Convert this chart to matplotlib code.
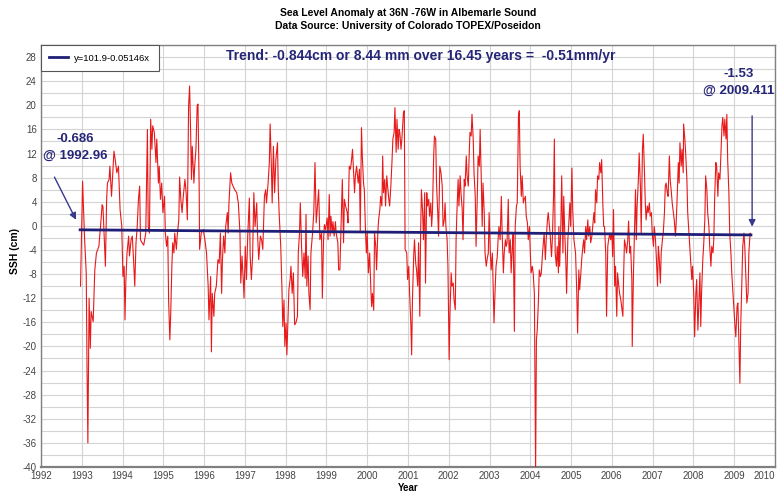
import matplotlib
matplotlib.use("Agg")
import matplotlib.pyplot as plt
from matplotlib.ticker import MultipleLocator

plt.rcParams['font.family'] = ['Liberation Sans Narrow', 'Liberation Sans', 'DejaVu Sans']
plt.rcParams['axes.unicode_minus'] = False

# sea surface height anomaly (cm)
years = [
    1992.97, 1993.02, 1993.07, 1993.11, 1993.13, 1993.15, 1993.18, 1993.21, 1993.23, 1993.28,
    1993.32, 1993.36, 1993.42, 1993.46, 1993.50, 1993.52, 1993.55, 1993.58, 1993.61, 1993.63,
    1993.67, 1993.69, 1993.73, 1993.76, 1993.79, 1993.82, 1993.86, 1993.90, 1993.94, 1993.98,
    1994.01, 1994.04, 1994.06, 1994.08, 1994.11, 1994.15, 1994.17, 1994.21, 1994.24, 1994.27,
    1994.30, 1994.33, 1994.36, 1994.39, 1994.42, 1994.44, 1994.48, 1994.52, 1994.57, 1994.61,
    1994.63, 1994.66, 1994.69, 1994.72, 1994.74, 1994.78, 1994.82, 1994.84, 1994.88, 1994.90,
    1994.93, 1994.96, 1994.99, 1995.03, 1995.05, 1995.08, 1995.11, 1995.13, 1995.16, 1995.18,
    1995.21, 1995.23, 1995.26, 1995.28, 1995.32, 1995.34, 1995.38, 1995.40, 1995.43, 1995.46,
    1995.49, 1995.53, 1995.56, 1995.59, 1995.62, 1995.645, 1995.67,
    1995.69, 1995.71, 1995.75, 1995.77, 1995.80, 1995.83, 1995.85, 1995.88, 1995.89, 1995.93,
    1995.98, 1996.02, 1996.06, 1996.10, 1996.12, 1996.16, 1996.18, 1996.20, 1996.24, 1996.26,
    1996.30, 1996.34, 1996.37, 1996.40, 1996.43, 1996.45, 1996.48, 1996.51, 1996.53, 1996.57,
    1996.59, 1996.61, 1996.65, 1996.68, 1996.71, 1996.75, 1996.80, 1996.84, 1996.88, 1996.90,
    1996.93, 1996.96, 1996.98, 1997.01, 1997.04, 1997.07, 1997.11, 1997.13, 1997.16, 1997.19,
    1997.22, 1997.25, 1997.29, 1997.31, 1997.34, 1997.38, 1997.41, 1997.44, 1997.48, 1997.51,
    1997.53, 1997.57, 1997.60, 1997.62, 1997.65, 1997.67, 1997.70, 1997.73, 1997.76, 1997.80,
    1997.82, 1997.84, 1997.88, 1997.91, 1997.93, 1997.96, 1997.98, 1998.01, 1998.03, 1998.06,
    1998.08, 1998.11, 1998.13, 1998.16, 1998.19, 1998.22, 1998.25, 1998.29, 1998.31, 1998.34,
    1998.36, 1998.39, 1998.42, 1998.45, 1998.48, 1998.50, 1998.52, 1998.55, 1998.57, 1998.60,
    1998.62, 1998.66, 1998.69, 1998.72, 1998.75, 1998.78, 1998.81,
    1998.84, 1998.88, 1998.90, 1998.93, 1998.95, 1998.98, 1999.02, 1999.04, 1999.07, 1999.09,
    1999.11, 1999.14, 1999.16, 1999.19, 1999.22, 1999.24, 1999.28, 1999.30, 1999.33, 1999.36,
    1999.39, 1999.42, 1999.44, 1999.47, 1999.51, 1999.53, 1999.56, 1999.59, 1999.61, 1999.64,
    1999.66, 1999.69, 1999.71, 1999.74, 1999.78, 1999.81, 1999.83, 1999.86, 1999.88, 1999.91,
    1999.93, 1999.96, 1999.98, 2000.00, 2000.03, 2000.06, 2000.09, 2000.11, 2000.13, 2000.16,
    2000.18, 2000.21, 2000.23, 2000.26, 2000.28, 2000.31, 2000.33, 2000.36, 2000.38, 2000.40,
    2000.43, 2000.45, 2000.48, 2000.50, 2000.53, 2000.55, 2000.58, 2000.61, 2000.63, 2000.66,
    2000.68, 2000.71, 2000.73, 2000.76, 2000.78, 2000.80, 2000.83, 2000.85, 2000.89, 2000.91,
    2000.93, 2000.97, 2000.99, 2001.02, 2001.04, 2001.07, 2001.09, 2001.11, 2001.14, 2001.16,
    2001.19, 2001.21, 2001.24, 2001.26, 2001.29, 2001.31, 2001.33, 2001.36, 2001.38, 2001.41,
    2001.43, 2001.46, 2001.48, 2001.51, 2001.53, 2001.56, 2001.58, 2001.60, 2001.63, 2001.65,
    2001.68, 2001.70, 2001.73, 2001.75,
    2001.78, 2001.81, 2001.84, 2001.86, 2001.89, 2001.91, 2001.93, 2001.96, 2001.98, 2002.01,
    2002.03, 2002.06, 2002.08, 2002.11, 2002.13, 2002.16, 2002.18, 2002.20, 2002.23, 2002.25,
    2002.28, 2002.30, 2002.33, 2002.35, 2002.38, 2002.40, 2002.43, 2002.45, 2002.48, 2002.50,
    2002.52, 2002.55, 2002.57, 2002.60, 2002.62, 2002.65, 2002.67, 2002.70, 2002.72, 2002.75,
    2002.77, 2002.80, 2002.82, 2002.84, 2002.87, 2002.89, 2002.92, 2002.94, 2002.97, 2002.99,
    2003.02, 2003.04, 2003.07, 2003.09, 2003.11, 2003.14, 2003.16, 2003.19, 2003.21, 2003.23,
    2003.26, 2003.29, 2003.31, 2003.34, 2003.36, 2003.39, 2003.41, 2003.43, 2003.46, 2003.48,
    2003.51, 2003.53, 2003.56, 2003.58, 2003.61, 2003.63, 2003.66, 2003.68, 2003.71, 2003.73,
    2003.75, 2003.78, 2003.80, 2003.83, 2003.85, 2003.88, 2003.90, 2003.93, 2003.95, 2003.98,
    2004.00, 2004.02, 2004.05, 2004.07, 2004.10, 2004.12, 2004.13, 2004.15, 2004.17, 2004.20,
    2004.22, 2004.25, 2004.27, 2004.30, 2004.32, 2004.34, 2004.37, 2004.39, 2004.42, 2004.44,
    2004.47, 2004.49, 2004.52, 2004.54, 2004.57, 2004.59, 2004.61, 2004.64, 2004.66, 2004.69,
    2004.70, 2004.72, 2004.75, 2004.77, 2004.80, 2004.82, 2004.84, 2004.87, 2004.89, 2004.92,
    2004.94, 2004.97, 2004.99, 2005.02, 2005.04, 2005.07, 2005.09, 2005.11, 2005.14, 2005.16,
    2005.19, 2005.21, 2005.24, 2005.26, 2005.29, 2005.31, 2005.33, 2005.36, 2005.38, 2005.41,
    2005.43, 2005.46, 2005.48, 2005.51, 2005.53, 2005.56, 2005.58, 2005.60, 2005.63, 2005.65,
    2005.68, 2005.70, 2005.73, 2005.75, 2005.78, 2005.80, 2005.82, 2005.85, 2005.87, 2005.90,
    2005.92, 2005.95, 2005.97, 2006.00, 2006.02, 2006.04, 2006.07, 2006.09, 2006.12, 2006.14,
    2006.17, 2006.19, 2006.22, 2006.24, 2006.27, 2006.29, 2006.31, 2006.34, 2006.36, 2006.39,
    2006.41, 2006.44, 2006.46, 2006.49, 2006.50, 2006.53, 2006.55, 2006.58, 2006.60, 2006.62,
    2006.65, 2006.67, 2006.70, 2006.72, 2006.75, 2006.77, 2006.80, 2006.82, 2006.84, 2006.87,
    2006.89, 2006.92, 2006.94, 2006.97, 2006.99, 2007.02, 2007.04, 2007.07, 2007.09, 2007.12,
    2007.14, 2007.16, 2007.19, 2007.21, 2007.24, 2007.26, 2007.29, 2007.31, 2007.33, 2007.36,
    2007.38, 2007.41, 2007.43, 2007.46, 2007.48, 2007.51, 2007.53, 2007.56, 2007.58, 2007.60,
    2007.63,
    2007.65, 2007.67, 2007.70, 2007.72, 2007.75, 2007.76, 2007.79, 2007.81, 2007.84, 2007.86,
    2007.89, 2007.91, 2007.93, 2007.96, 2007.98, 2008.01, 2008.03, 2008.06, 2008.08, 2008.11,
    2008.13, 2008.16, 2008.18, 2008.20, 2008.23, 2008.25, 2008.28, 2008.30, 2008.33, 2008.35,
    2008.38, 2008.40, 2008.43, 2008.45, 2008.48, 2008.50, 2008.52, 2008.55, 2008.57, 2008.60,
    2008.62, 2008.65, 2008.67, 2008.70, 2008.72, 2008.75, 2008.77, 2008.80, 2008.82, 2008.84,
    2008.87, 2008.89, 2008.92, 2008.94, 2008.97, 2008.99, 2009.02, 2009.04, 2009.07, 2009.09,
    2009.11, 2009.14, 2009.16, 2009.19, 2009.21, 2009.24, 2009.26, 2009.29, 2009.31, 2009.34,
    2009.36, 2009.39, 2009.41,
]
ssh = [
    -10, 7.4, -2.3, -7.8, -24, -36, -12, -20.3, -14.2, -15.9,
    -7.3, -4.5, -3.4, -0.1, 3.5, 3.2, -1.7, -6.7, 4.4, 7.1,
    7.7, 9.9, 4.9, 8.8, 12.4, 11, 8.8, 9.9, 2.7, 0,
    -8.4, -6.7, -15.6, -9.5, -4.5, -1.7, -5, -2.3, -1.7, -5.6,
    -10, -2.8, -0.1, 4.4, 6.6, -2.3, -2.8, -3.2, -1.2, 16,
    -0.1, -1.2, 17.7, 12.7, 16.6, 15.5, 10.5, 14.4, 7.1, 9.9,
    4.4, 7.1, 2.2, 4.9, -1.2, -3.4, -1.7, -12.3, -18.9, -15,
    -6.7, -2.8, -4.5, -1.2, -3.9, -1.7, 1, 8.1, 4.4, 2.2,
    4.9, 7.7, 5.5, 1, 19.9, 23.2, 15.5,
    7.7, 13.2, 7.1, 9.9, 12.7, 19.9, 20.2, 6, -3.9, -1.2,
    -0.6, -2.3, -4.5, -10, -15.6, -8.4, -20.9, -11.2, -15, -11.2,
    -10, -5.6, -6.2, -1.2, -11.2, -5.6, -1.7, -4.5, -0.1, 2.2,
    -1.2, 3.8, 8.8, 7.1, 6.6, 6, 5.5, 3.8, -1.2, -9.5,
    -5, -8.9, -12, -3.4, -8.9, -1.7, 4.6, -5, -8.9, -5,
    5.5, -0.1, 3.8, -1.2, -5.6, -1.7, -2.3, -3.9, 4.9, 6,
    3.8, 7.1, 10.5, 16.9, 9.9, 3.8, 13.2, 5.5, 11, 13.8,
    6, 2.2, -3.4, -10.6, -16.7, -12.3, -20, -16.1, -21.4, -15,
    -10.6, -8.9, -6.7, -11.2, -7.8, -16.4, -16.1, -15, -4.5, -1.2,
    3.8, -3.4, -8.4, -4.5, -8.7, 1.9, -10, -5, -11.2, -13.9,
    -4.5, -1.2, 2.2, 10.5, 0.5, 3.3, 6,
    -2.3, -1.2, -12, -2.3, 0.2, -0.6, 1.3, -2.3, 5.2, -1.7,
    1.6, -1.2, 0.7, -1.7, 0.7, -1.2, -2.8, -7.3, -7.3, -0.1,
    7.7, -2.8, 4.4, 3.3, 2.2, 0.5, 9.9, 9.4, 10.5, 12.7,
    9.9, 5.5, 8.3, 9.9, 7.1, 9.4, -0.9, 16.3, 11.6, 7.1,
    6, -1.2, -4.5, -1.2, -7.8, -4.5, -10.6, -13.4, -11.2, -14,
    -1.2, -3.4, -7.3, -1.2, 1, 2.7, 4.9, 3.3, 11.6, 5.5,
    7.7, 3.3, 8.3, 6.6, 4.4, 3.3, 6.6, 11, 14.4, 15.5,
    19.6, 12.2, 17.7, 12.7, 16, 15.5, 12.7, 14.4, 18.8, 19.1,
    -3.9, -4.5, -8.9, -6.7, -11.2, -16.1, -21.4, -12.3, -5, -2.3,
    -6.2, -7.3, -10, -2.8, -15, -1.2, 6, 2.2, -2.3, 5.5,
    -9.5, 5.5, 3.3, 4.4, 1.6, 3.8, -0.1, 2.2, 11.6, 14.9,
    14.4, 7.1, 2.2, -1.7,
    9.9, 8.8, 6.6, -0.1, 1.0, 3.8, -0.1, -2.3, -6.7, -22.2,
    -14.5, -7.8, -10.0, -9.5, -12.3, -13.9, -2.3, 2.2, 7.7, 3.3,
    8.3, 5.5, 2.7, -2.3, 7.7, 6.6, 11.6, 8.3, 6.6, 11.6,
    15.5, 14.9, 18.5, 14.4, 8.8, 4.9, -3.4, 4.9, 11.6, 9.9,
    16.0, 7.1, -0.1, 7.1, 2.2, -4.5, -6.7, -5.6, -4.5, 2.2,
    -4.5, -7.3, -4.5, -10.6, -16.1, -10.0, -6.7, -5.1, -2.3, -0.1,
    -2.3, 4.9, -1.2, -7.8, -4.5, -2.3, -3.4, -2.8, 4.4, -4.5,
    -2.3, -7.8, -3.4, -1.2, -17.5, -0.1, 3.3, 3.8, 18.2, 19.1,
    9.9, 4.9, 8.3, 3.8, 4.4, 4.9, 1.6, 0.5, -2.3, -0.1,
    -4.5, -7.8, -6.7, -7.8, -11.2, -30, -41, -18.9, -17.3, -12.3,
    -7.3, -8.4, -7.8, -4.5, -2.8, -1.2, -5.6, -2.3, 1.0, 2.2,
    -0.1, -1.7, -5.1, -2.3, 4.9, 14.4, -4.5, -6.7, -3.4, -7.8,
    -0.1, -6.7, 0.5, 8.3, -4.5, 4.9, -0.1, -5.6, -11.2, -2.3,
    -0.1, 3.8, -0.1, 9.6, 2.7, -2.3, -3.4, -4.5, -11.2, -17.8,
    -7.3, -10.6, -7.8, -5.6, -3.4, -2.3, -4.5, -0.1, -2.3, 1.0,
    -1.7, -0.1, -2.8, -1.7, -0.1, 2.2, 0.5, 6.0, 3.8, 8.3,
    7.7, 10.5, 8.8, 11.0, 3.3, -0.1, -0.1, -4.5, -15.0, -3.4,
    -2.3, -1.2, -2.3, -1.2, -5.1, 2.7, -10.0, -6.7, -15.0, -7.8,
    -10.0, -11.2, -12.3, -13.4, -15.0, -7.8, -2.3, -3.4, -4.5, -2.3,
    0.8, -4.5, -3.4, -8.9, -20.0, -7.8, -2.3, 6.0, -2.3, 3.3,
    7.7, 12.1, 6.6, -1.2, 12.7, 15.2, 8.8, 3.8, 1.0, 3.3,
    2.2, 3.8, 1.6, 2.2, -1.2, -3.4, -0.1, -2.3, -5.1, -10.0,
    -3.4, -5.1, -9.5, -4.5, -2.3, -1.2, 2.2, 6.6, 7.1, 5.5,
    4.9, 11.6, 7.7, 5.5, 3.8, 2.2, 1.0, -1.7, 1.0, 4.4,
    10.5,
    7.1, 13.8, 9.9, 12.7, 8.8, 16.9, 14.4, 12.1, 7.7, 2.2,
    -1.2, -3.4, -5.6, -8.9, -6.7, -11.7, -18.4, -11.2, -8.9, -17.3,
    -13.4, -7.8, -16.7, -11.2, -5.6, -3.4, 1.0, 8.3, 6.0, 2.2,
    -0.1, -3.4, -6.7, -3.4, -4.5, -2.3, 4.4, 10.5, 9.9, 4.9,
    8.8, 7.7, 11.0, 16.6, 18.0, 14.9, 17.7, 14.4, 18.5, 11.0,
    5.5, -1.2, -4.5, -7.8, -11.2, -13.4, -16.7, -18.4, -13.4, -12.8,
    -17.8, -26.1, -16.7, -8.9, -3.4, -1.2, -3.4, -8.9, -12.8, -11.2,
    -4.5, -1.2, -1.5,
]

# linear fit shown in the legend
trend_intercept = 101.9
trend_slope = -0.05146
trend_start = 1992.96
trend_end = 2009.411
trend_label = "y=101.9-0.05146x"
trend_text = "Trend: -0.844cm or 8.44 mm over 16.45 years =  -0.51mm/yr"
start_note = "-0.686\n@ 1992.96"
end_note = "-1.53\n@ 2009.411"

navy = '#262678'

fig = plt.figure(figsize=(7.82, 4.92), dpi=100)
ax = fig.add_axes([0.0524, 0.0508, 0.9386, 0.8577])

ax.plot(years, ssh, color='#e8191a', lw=0.8, zorder=3)
tx = [trend_start, trend_end]
ty = [trend_intercept + trend_slope * x for x in tx]
ax.plot(tx, ty, color='#1f1f78', lw=2, zorder=4, label=trend_label)

ax.set_xlim(1992, 2010)
ax.set_ylim(-40, 30)
ax.set_xticks(range(1992, 2011))
ax.set_yticks(range(-40, 29, 4))
ax.yaxis.set_minor_locator(MultipleLocator(2))
ax.grid(which='both', color='#d4d4d4', lw=0.8)
ax.set_axisbelow(True)
ax.tick_params(which='both', length=0, labelsize=7, labelcolor='#444444', pad=3)
# last year label would run off the figure edge
ax.get_xticklabels()[-1].set_horizontalalignment('right')
for s in ax.spines.values():
    s.set_color('#808080')
    s.set_linewidth(1)
ax.spines['bottom'].set_linewidth(1.6)

leg = ax.legend(loc='upper left', borderaxespad=0, fancybox=False, framealpha=1,
                edgecolor='#555555', fontsize=6.8, handlelength=2.0, borderpad=0.9,
                handletextpad=0.6)
leg.get_frame().set_linewidth(0.8)

ax.text(2001.31, 28.1, trend_text, color=navy, fontsize=10, fontweight='bold',
        ha='center', va='center')

ax.text(1992.83, 13.0, start_note, color=navy, fontsize=9.5, fontweight='bold',
        ha='center', va='center', linespacing=1.45)
ax.annotate('', xy=(1992.89, 0.6), xytext=(1992.30, 8.5),
            arrowprops=dict(arrowstyle='-|>', color='#3a3a8a', lw=1, mutation_scale=10))

ax.text(2009.10, 23.8, end_note, color=navy, fontsize=9.5, fontweight='bold',
        ha='center', va='center', linespacing=1.45)
ax.annotate('', xy=(2009.44, -0.6), xytext=(2009.44, 18.7),
            arrowprops=dict(arrowstyle='-|>', color='#3a3a8a', lw=1, mutation_scale=10))

fig.text(0.522, 0.974, "Sea Level Anomaly at 36N -76W in Albemarle Sound",
         ha='center', va='center', fontsize=7.5, fontweight='bold')
fig.text(0.522, 0.947, "Data Source: University of Colorado TOPEX/Poseidon",
         ha='center', va='center', fontsize=7.5, fontweight='bold')
fig.text(0.019, 0.49, "SSH (cm)", rotation=90, ha='center', va='center',
         fontsize=7.5, fontweight='bold')
fig.text(0.522, 0.009, "Year", ha='center', va='center', fontsize=7, fontweight='bold')

fig.savefig('out.png', dpi=100)
